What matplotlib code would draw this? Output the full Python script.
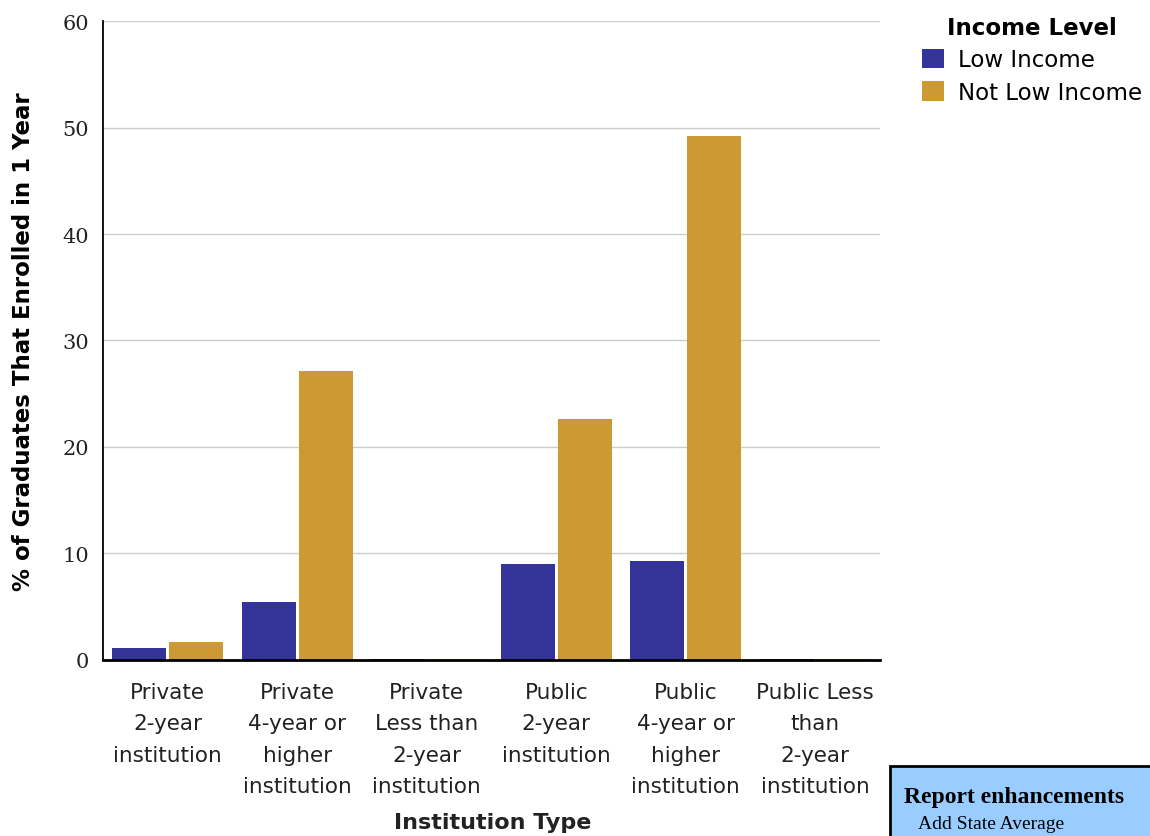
import matplotlib.pyplot as plt
import matplotlib.patches as mpatches
import numpy as np

# data
institution_types = [
    "Private\n2-year\ninstitution",
    "Private\n4-year or\nhigher\ninstitution",
    "Private\nLess than\n2-year\ninstitution",
    "Public\n2-year\ninstitution",
    "Public\n4-year or\nhigher\ninstitution",
    "Public Less\nthan\n2-year\ninstitution",
]
low_income = [1.1, 5.4, 0.1, 9.0, 9.3, 0.1]
not_low_income = [1.7, 27.1, 0.1, 22.6, 49.2, 0.1]
y_ticks = [0, 10, 20, 30, 40, 50, 60]

low_color = "#333399"
not_low_color = "#CC9933"

fig = plt.figure(figsize=(11.5, 8.37), dpi=100)
ax = fig.add_axes([0.0896, 0.2103, 0.6757, 0.7634])

x = np.arange(len(institution_types))
bar_w = 0.415
ax.bar(x - 0.22, low_income, width=bar_w, color=low_color, label="Low Income", zorder=3)
ax.bar(x + 0.22, not_low_income, width=bar_w, color=not_low_color, label="Not Low Income", zorder=3)

ax.set_xlim(-0.5, len(institution_types) - 0.5)
ax.set_ylim(0, 60)
ax.set_yticks(y_ticks)
ax.set_yticklabels([str(t) for t in y_ticks], fontfamily="DejaVu Serif", fontsize=15, color="#222222")
ax.set_xticks(x)
ax.set_xticklabels(institution_types, fontsize=15.5, color="#222222", linespacing=1.7, va="top")
ax.tick_params(axis="both", length=0)
ax.tick_params(axis="x", pad=16)
ax.tick_params(axis="y", pad=10)

ax.grid(axis="y", color="#cccccc", linewidth=1, zorder=0)
for s in ["top", "right"]:
    ax.spines[s].set_visible(False)
ax.spines["left"].set_linewidth(1.3)
ax.spines["bottom"].set_linewidth(2)
ax.spines["bottom"].set_zorder(4)

ax.set_ylabel("% of Graduates That Enrolled in 1 Year", fontsize=16.5, fontweight="bold", labelpad=20)
fig.text(0.428, 0.009, "Institution Type", fontsize=16, fontweight="bold", ha="center", color="#222222")

handles, labels = ax.get_legend_handles_labels()
leg = fig.legend(handles, labels, title="Income Level", loc="upper left",
                 bbox_to_anchor=(0.802, 0.980), frameon=False, fontsize=16.5,
                 title_fontproperties={"weight": "bold", "size": 16.5},
                 handlelength=0.95, handleheight=0.95, handletextpad=0.6,
                 labelspacing=0.42, borderaxespad=0, borderpad=0)

# note box in the lower right, running off the figure edge
fig.patches.append(mpatches.Rectangle((890 / 1150, -0.05), 0.5, 0.05 + 70 / 837,
                                      transform=fig.transFigure, facecolor="#99CCFF",
                                      edgecolor="black", linewidth=2, zorder=5))
fig.text(904 / 1150, 1 - 803 / 837, "Report enhancements", fontfamily="Liberation Serif",
         fontsize=17, fontweight="bold", zorder=6)
fig.text(918 / 1150, 1 - 829 / 837, "Add State Average", fontfamily="Liberation Serif",
         fontsize=14, zorder=6)

fig.savefig("out.png", dpi=100)
